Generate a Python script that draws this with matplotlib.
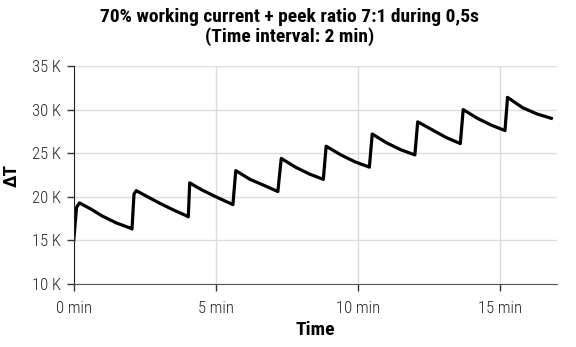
import matplotlib
matplotlib.use("Agg")
import matplotlib.pyplot as plt
from matplotlib import font_manager

time_min = [0.0, 0.1, 0.2, 0.6, 1.0, 1.5, 2.0, 2.05,
            2.12, 2.2, 2.6, 3.0, 3.5, 3.98, 4.03,
            4.08, 4.5, 5.0, 5.6,
            5.7, 6.2, 6.7, 7.18,
            7.3, 7.8, 8.3, 8.78,
            8.88, 9.4, 9.9, 10.4,
            10.5, 11.0, 11.5, 12.0,
            12.1, 12.6, 13.1, 13.6,
            13.7, 14.2, 14.7, 15.17,
            15.26, 15.8, 16.3, 16.8]
delta_t = [15.0, 18.8, 19.3, 18.6, 17.8, 17.0, 16.4, 16.3,
           20.3, 20.7, 20.0, 19.3, 18.5, 17.8, 17.7,
           21.6, 20.8, 20.0, 19.1,
           23.0, 22.0, 21.3, 20.6,
           24.4, 23.4, 22.6, 22.0,
           25.8, 24.8, 24.0, 23.4,
           27.2, 26.2, 25.4, 24.8,
           28.6, 27.7, 26.8, 26.1,
           30.0, 29.0, 28.2, 27.6,
           31.4, 30.2, 29.5, 29.0]

x_ticks = [0, 5, 10, 15]
x_tick_labels = ["0 min", "5 min", "10 min", "15 min"]
y_ticks = [10, 15, 20, 25, 30, 35]
y_tick_labels = ["10 K", "15 K", "20 K", "25 K", "30 K", "35 K"]
title_lines = ["70% working current + peek ratio 7:1 during 0,5s",
               "(Time interval: 2 min)"]

names = {f.name for f in font_manager.fontManager.ttflist}
fam = "Liberation Sans"
for cand in ["Roboto Condensed", "Nimbus Sans Narrow", "Liberation Sans Narrow",
             "Arial Narrow", "PT Sans Narrow", "Archivo Narrow", "Pragati Narrow"]:
    if cand in names:
        fam = cand
        break
plt.rcParams['font.family'] = [fam, 'DejaVu Sans']

fig = plt.figure(figsize=(5.76, 3.47), dpi=100)
ax = fig.add_axes([0.128, 0.1816, 0.839, 0.6282])

ax.plot(time_min, delta_t, color="black", lw=2.3, solid_joinstyle="round")

ax.set_xlim(0, 17)
ax.set_ylim(10, 35)
ax.set_xticks(x_ticks)
ax.set_xticklabels(x_tick_labels, fontsize=12, color="#222222", fontweight="light")
ax.set_yticks(y_ticks)
ax.set_yticklabels(y_tick_labels, fontsize=12, color="#222222", fontweight="light")
ax.grid(True, color="#dcdcdc", lw=1)
ax.set_axisbelow(True)
for s in ["top", "right"]:
    ax.spines[s].set_visible(False)
ax.spines["left"].set_color("#222222")
ax.spines["bottom"].set_color("#555555")
ax.tick_params(axis="both", length=5, width=1, color="#333333", pad=4)
ax.tick_params(axis="x", pad=7)

ax.set_xlabel("Time", fontsize=14, fontweight="bold", labelpad=4)
fig.text(12 / 576, 1 - 175 / 347, "ΔT", fontsize=14, fontweight="bold",
         rotation=90, ha="center", va="center")
fig.text(0.503, 1 - 16.5 / 347, title_lines[0],
         fontsize=14, fontweight="bold", ha="center", va="center")
fig.text(0.503, 1 - 36.5 / 347, title_lines[1],
         fontsize=14, fontweight="bold", ha="center", va="center")

fig.savefig("out.png", dpi=100)
